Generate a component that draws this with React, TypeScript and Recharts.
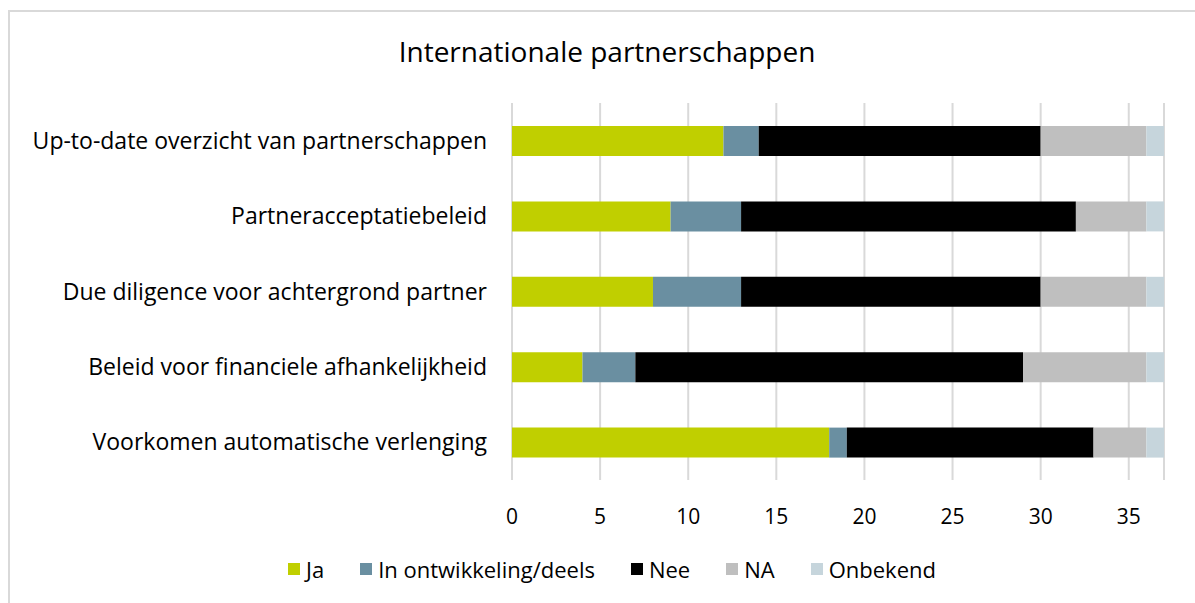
import { Bar, BarChart, CartesianGrid, XAxis, YAxis } from "recharts";

const categories = [
  "Up-to-date overzicht van partnerschappen",
  "Partneracceptatiebeleid",
  "Due diligence voor achtergrond partner",
  "Beleid voor financiele afhankelijkheid",
  "Voorkomen automatische verlenging",
];
const ja = [12, 9, 8, 4, 18];
const inOntwikkeling = [2, 4, 5, 3, 1];
const nee = [16, 19, 17, 22, 14];
const na = [6, 4, 6, 7, 3];
const onbekend = [1, 1, 1, 1, 1];
const xTicks = [0, 5, 10, 15, 20, 25, 30, 35];

const series = [
  { key: "ja", name: "Ja", color: "#c0cf00" },
  { key: "ontw", name: "In ontwikkeling/deels", color: "#6a8fa1" },
  { key: "nee", name: "Nee", color: "#000000" },
  { key: "na", name: "NA", color: "#bfbfbf" },
  { key: "onb", name: "Onbekend", color: "#c6d5dc" },
];

const data = categories.map((c, i) => ({
  cat: c,
  ja: ja[i],
  ontw: inOntwikkeling[i],
  nee: nee[i],
  na: na[i],
  onb: onbekend[i],
}));

const FONT = "'Open Sans', sans-serif";

function LegendRow() {
  return (
    <div
      style={{
        position: "absolute",
        left: 8,
        top: 554,
        width: 1208,
        display: "flex",
        justifyContent: "center",
        alignItems: "center",
        fontFamily: FONT,
        fontSize: 22,
        color: "#000",
      }}
    >
      {series.map((s) => (
        <div key={s.key} style={{ display: "flex", alignItems: "center", margin: "0 18px" }}>
          <span style={{ width: 12, height: 12, background: s.color, marginRight: 6 }} />
          <span>{s.name}</span>
        </div>
      ))}
    </div>
  );
}

export default function App() {
  return (
    <div style={{ position: "absolute", left: 0, top: 0, width: 1195, height: 603, background: "#fff", overflow: "hidden" }}>
      <div
        style={{
          position: "absolute",
          left: 8,
          top: 10,
          width: 1220,
          height: 620,
          border: "2px solid #d9d9d9",
          boxSizing: "border-box",
        }}
      />
      <div
        style={{
          position: "absolute",
          left: 8,
          top: 32,
          width: 1198,
          textAlign: "center",
          fontFamily: FONT,
          fontSize: 28,
          color: "#000",
        }}
      >
        Internationale partnerschappen
      </div>
      <div style={{ position: "absolute", left: 0, top: 0 }}>
        <BarChart
          width={1195}
          height={603}
          data={data}
          layout="vertical"
          barSize={30}
          margin={{ top: 103, right: 31, bottom: 93, left: 12 }}
        >
          <CartesianGrid horizontal={false} stroke="#d9d9d9" strokeWidth={2} />
          <XAxis
            type="number"
            domain={[0, 37]}
            ticks={xTicks}
            axisLine={false}
            tickLine={false}
            tickMargin={23}
            tick={{ fontSize: 21, fontFamily: FONT, fill: "#000" }}
            interval={0}
          />
          <YAxis
            type="category"
            dataKey="cat"
            width={500}
            axisLine={false}
            tickLine={false}
            tickSize={0}
            tickMargin={25}
            tick={{ fontSize: 23, fontFamily: FONT, fill: "#000" }}
            interval={0}
          />
          {series.map((s) => (
            <Bar key={s.key} dataKey={s.key} name={s.name} stackId="a" fill={s.color} isAnimationActive={false} />
          ))}
        </BarChart>
      </div>
      <LegendRow />
    </div>
  );
}
